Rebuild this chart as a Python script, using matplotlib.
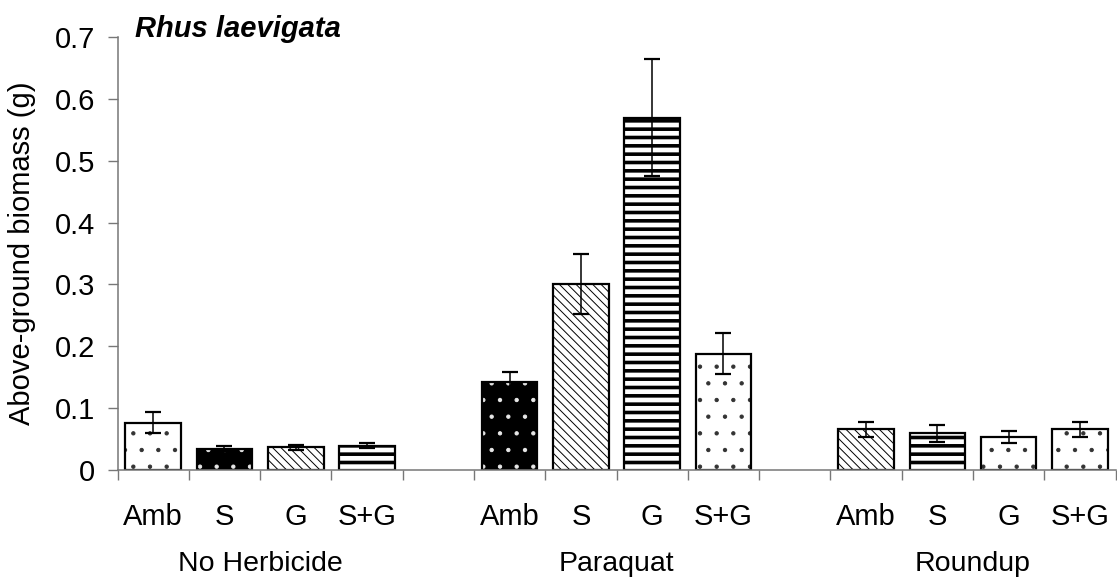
import numpy as np
import matplotlib
matplotlib.use('Agg')
import matplotlib.pyplot as plt

plt.rcParams['font.family'] = ['Liberation Sans', 'DejaVu Sans']

# данные
groups = ['No Herbicide', 'Paraquat', 'Roundup']
treatments = ['Amb', 'S', 'G', 'S+G']

no_herbicide = [0.076, 0.034, 0.037, 0.039]
no_herbicide_err = [0.017, 0.004, 0.004, 0.004]
paraquat = [0.143, 0.301, 0.570, 0.188]
paraquat_err = [0.016, 0.048, 0.094, 0.033]
roundup = [0.066, 0.059, 0.053, 0.066]
roundup_err = [0.012, 0.014, 0.010, 0.012]

fills = [['dots', 'bdots', 'diag', 'stripes'],
         ['bdots', 'diag', 'stripes', 'dots'],
         ['diag', 'stripes', 'dots', 'dots']]

# заливка: цвет фона, штриховка, цвет штриховки, толщина
styles = {
    'dots': ('white', '.', '#333333', 0.7),
    'bdots': ('black', '.', '#e8e8e8', 0.7),
    'diag': ('white', '\\\\\\\\', 'black', 0.7),
    'stripes': ('white', '--', 'black', 2.6),
}

values = [no_herbicide, paraquat, roundup]
errors = [no_herbicide_err, paraquat_err, roundup_err]

fig = plt.figure(figsize=(11.17, 5.80), dpi=100)
ax = fig.add_axes([0.1052, 0.1897, 0.8935, 0.7462])

fs = 21
w = 0.78
for i in range(3):
    for j in range(4):
        x = i * 5 + j
        v = values[i][j]
        face, h, hc, hlw = styles[fills[i][j]]
        with plt.rc_context({'hatch.linewidth': hlw}):
            b = ax.bar(x, v, width=w, color=face, edgecolor=hc, hatch=h, linewidth=0)
            for p in b:
                if hasattr(p, 'set_hatch_linewidth'):
                    p.set_hatch_linewidth(hlw)
        ax.bar(x, v, width=w, fill=False, edgecolor='black', linewidth=1.6)
        ax.errorbar(x, v, yerr=errors[i][j], fmt='none', ecolor='black',
                    elinewidth=1.1, capsize=5.5, capthick=1.6)
        ax.annotate(treatments[j], xy=(x, 0), xycoords=('data', 'axes fraction'),
                    xytext=(0, -33.5), textcoords='offset points',
                    ha='center', va='center', fontsize=fs)
    ax.annotate(groups[i], xy=(i * 5 + 1.5, 0), xycoords=('data', 'axes fraction'),
                xytext=(0, -72.5), textcoords='offset points',
                ha='center', va='baseline', fontsize=20.5)

ax.set_xlim(-0.5, 13.5)
ax.set_ylim(0, 0.7)
ax.set_xticks(np.arange(-0.5, 14, 1))
ax.set_xticklabels([])
ax.set_yticks(np.arange(0, 0.71, 0.1))
ax.set_yticklabels(['0', '0.1', '0.2', '0.3', '0.4', '0.5', '0.6', '0.7'])
ax.tick_params(axis='both', direction='out', length=7.2, width=1, color='#777777')
ax.tick_params(axis='y', labelsize=fs, pad=9)
for s in ['top', 'right']:
    ax.spines[s].set_visible(False)
for s in ['left', 'bottom']:
    ax.spines[s].set_color('#777777')
    ax.spines[s].set_linewidth(1.1)

fig.text(135 / 1117, 1 - 37 / 580, 'Rhus laevigata', fontsize=fs,
         fontweight='bold', fontstyle='italic', va='baseline', ha='left')
fig.text(22 / 1117, 0.5628, 'Above-ground biomass (g)', rotation=90,
         fontsize=fs, ha='center', va='center')

fig.savefig('out.png', dpi=100)
